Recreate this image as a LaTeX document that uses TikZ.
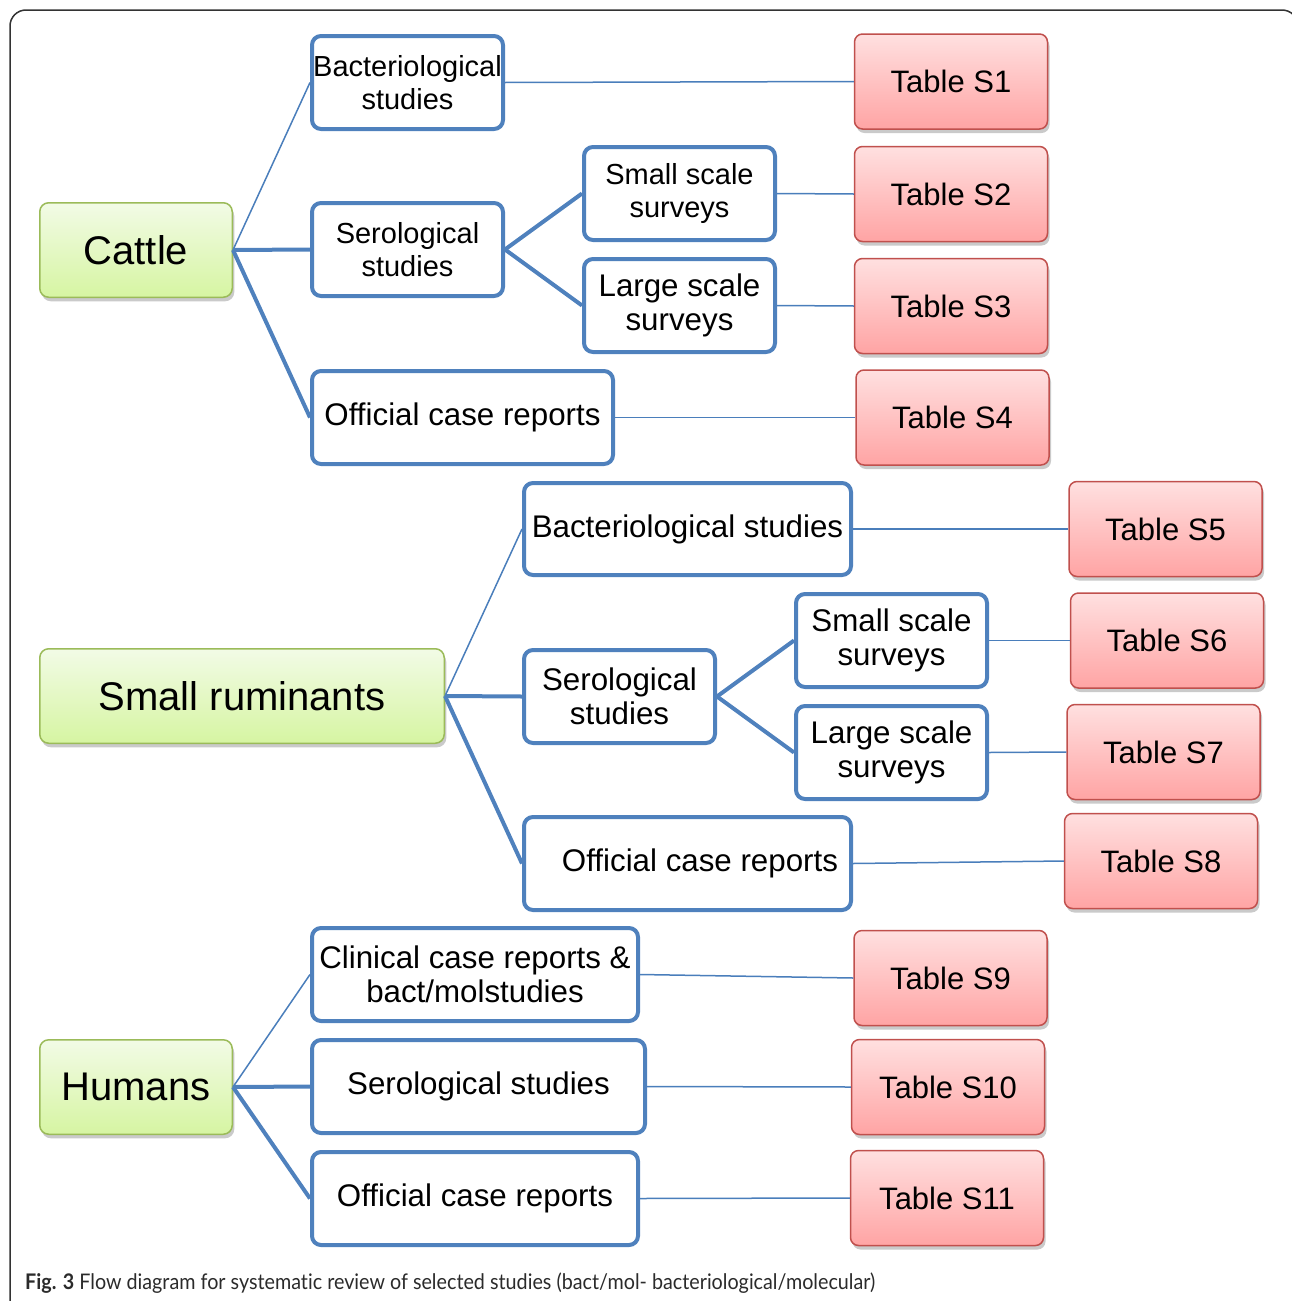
\documentclass[tikz,border=0pt]{standalone}
\usepackage{fontspec}
\usepackage{graphicx}
\setmainfont{Liberation Sans}
\newfontfamily\capfont[Ligatures=NoCommon]{Lato}
\usetikzlibrary{shadows}
\definecolor{blueC}{HTML}{4F81BD}
\definecolor{blueT}{HTML}{4A7EBB}
\definecolor{redB}{HTML}{C0504D}
\definecolor{redT}{HTML}{FFE0E0}
\definecolor{redBt}{HTML}{FFA4A4}
\definecolor{grB}{HTML}{9BBB59}
\definecolor{grT}{HTML}{F2FBE6}
\definecolor{grBt}{HTML}{D6F5A2}
\definecolor{capC}{HTML}{2B2B2B}
\tikzset{
  bluebox/.style={draw=blueC, line width=4pt, rounded corners=9pt, fill=white,
    inner sep=0pt, align=center, minimum width=191pt, minimum height=93pt,
    font=\fontsize{31.3}{34.5}\selectfont},
  smallfont/.style={font=\fontsize{29}{33}\selectfont},
  tablebox/.style={draw=redB, line width=1.5pt, rounded corners=8pt,
    top color=redT, bottom color=redBt, inner sep=0pt,
    minimum width=193pt, minimum height=95pt,
    drop shadow={shadow xshift=2pt, shadow yshift=-4pt, opacity=0.35, fill=black!60},
    font=\fontsize{31}{34}\selectfont},
  animalbox/.style={draw=grB, line width=1.5pt, rounded corners=9pt,
    top color=grT, bottom color=grBt, inner sep=0pt,
    minimum height=94.5pt,
    drop shadow={shadow xshift=2pt, shadow yshift=-4pt, opacity=0.35, fill=black!60},
    font=\fontsize{40}{44}\selectfont},
  thick link/.style={draw=blueC, line width=4pt},
  thin link/.style={draw=blueT, line width=1.5pt},
}
\begin{document}
\begin{tikzpicture}[x=1pt,y=-1pt]
\useasboundingbox (0,0) rectangle (1292,1301);
\begin{scope}
\clip (0,0) rectangle (1292,1301);
\draw[line width=1.5pt, draw=black!80, rounded corners=16pt] (10,10) rectangle (1298,1318);
\end{scope}

% animal boxes
\node[animalbox, minimum width=192.5pt] (cattle) at (136,250) {Cattle};
\node[animalbox, minimum width=404.5pt] (sr) at (242,696) {Small ruminants};
\node[animalbox, minimum width=192.5pt] (hum) at (136,1087) {Humans};

% cattle branch
\node[bluebox, smallfont] (cbact) at (407.5,82.5) {Bacteriological\\studies};
\node[bluebox, smallfont] (cser) at (407.5,249.5) {Serological\\studies};
\node[bluebox, smallfont] (csmall) at (679.5,193.5) {Small scale\\surveys};
\node[bluebox] (clarge) at (679.5,305.5) {Large scale\\surveys};
\node[bluebox, minimum width=301pt] (coff) at (462.5,417.5) {Official case reports};

% small ruminants branch
\node[bluebox, minimum width=327pt, minimum height=92pt] (sbact) at (687.5,529) {Bacteriological studies};
\node[bluebox] (sser) at (619.5,696.5) {Serological\\studies};
\node[bluebox] (ssmall) at (891.5,640.5) {Small scale\\surveys};
\node[bluebox] (slarge) at (891.5,752.5) {Large scale\\surveys};
\node[bluebox, minimum width=327pt] (soff) at (687.5,863.5) {\hspace{25pt}Official case reports};

% humans branch
\node[bluebox, minimum width=326pt] (hclin) at (475,974.5) {Clinical case reports \&\\bact/molstudies};
\node[bluebox, minimum width=333pt] (hser) at (478.5,1086.5) {Serological studies};
\node[bluebox, minimum width=326pt] (hoff) at (475,1198.5) {Official case reports};

% tables
\node[tablebox] (t1) at (951,81.5) {Table S1};
\node[tablebox] (t2) at (951,194) {Table S2};
\node[tablebox] (t3) at (951,306) {Table S3};
\node[tablebox] (t4) at (952.5,417.5) {Table S4};
\node[tablebox] (t5) at (1165.5,529) {Table S5};
\node[tablebox] (t6) at (1167,640.5) {Table S6};
\node[tablebox] (t7) at (1163.5,752) {Table S7};
\node[tablebox] (t8) at (1161,861) {Table S8};
\node[tablebox] (t9) at (950.5,978) {Table S9};
\node[tablebox] (t10) at (948,1087) {Table S10};
\node[tablebox] (t11) at (947,1198) {Table S11};

% connectors
\draw[thin link] (cattle.east) -- (cbact.west);
\draw[thick link] (cattle.east) -- (cser.west);
\draw[thick link] (cattle.east) -- (coff.west);
\draw[thick link] (cser.east) -- (csmall.west);
\draw[thick link] (cser.east) -- (clarge.west);
\draw[thin link] (cbact.east) -- (t1.west);
\draw[thin link] (csmall.east) -- (t2.west);
\draw[thin link] (clarge.east) -- (t3.west);
\draw[thin link] (coff.east) -- (t4.west);

\draw[thin link] (sr.east) -- (sbact.west);
\draw[thick link] (sr.east) -- (sser.west);
\draw[thick link] (sr.east) -- (soff.west);
\draw[thick link] (sser.east) -- (ssmall.west);
\draw[thick link] (sser.east) -- (slarge.west);
\draw[thin link] (sbact.east) -- (t5.west);
\draw[thin link] (ssmall.east) -- (t6.west);
\draw[thin link] (slarge.east) -- (t7.west);
\draw[thin link] (soff.east) -- (t8.west);

\draw[thin link] (hum.east) -- (hclin.west);
\draw[thick link] (hum.east) -- (hser.west);
\draw[thick link] (hum.east) -- (hoff.west);
\draw[thin link] (hclin.east) -- (t9.west);
\draw[thin link] (hser.east) -- (t10.west);
\draw[thin link] (hoff.east) -- (t11.west);

% caption
\node[anchor=base west, inner sep=0pt, text=capC] (cap) at (25,1289)
  {\resizebox{850pt}{\height}{\capfont\fontsize{21.5}{24}\selectfont\textbf{Fig. 3} Flow diagram for systematic review of selected studies (bact/mol- bacteriological/molecular)}};
\end{tikzpicture}
\end{document}
